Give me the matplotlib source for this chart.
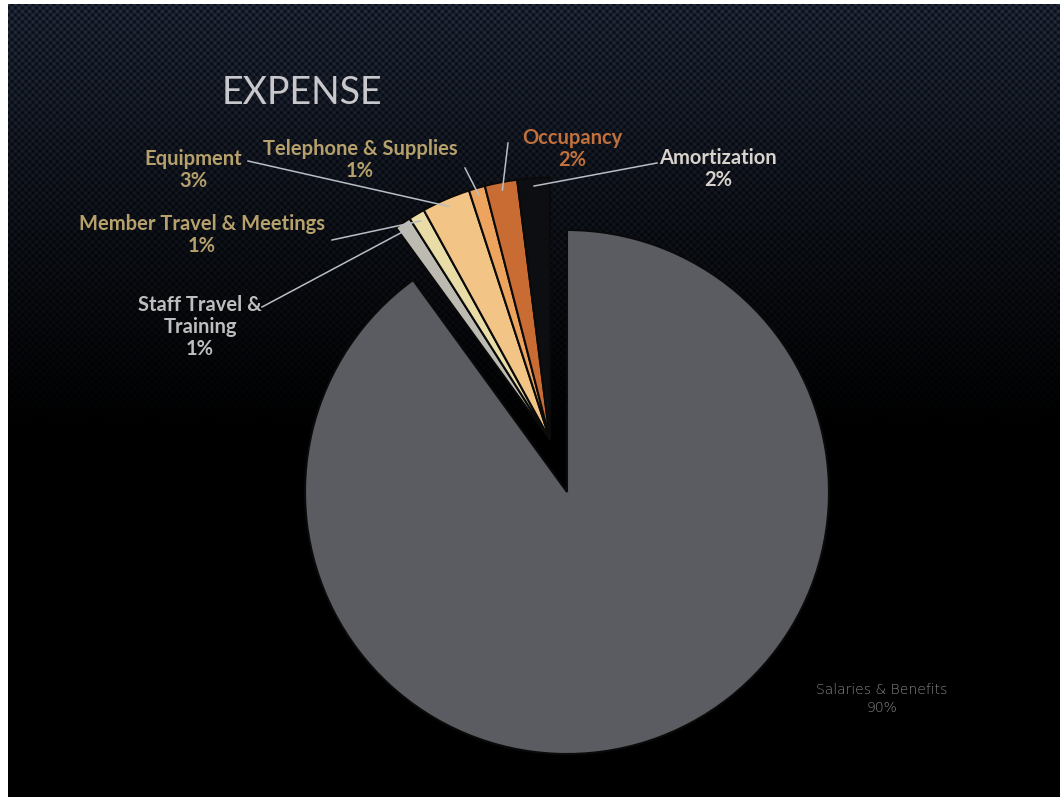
import numpy as np
import matplotlib.pyplot as plt

W, H = 1060, 799

categories = ["Salaries & Benefits", "Staff Travel &\nTraining", "Member Travel & Meetings",
              "Equipment", "Telephone & Supplies", "Occupancy", "Amortization"]
percent = [90, 1, 1, 3, 1, 2, 2]
colors = ["#5a5c62", "#bdbab1", "#e9dca6", "#f2c486", "#eca45e", "#c96c33", "#0c0e11"]
pulled = [False, True, True, True, True, True, True]

# label block centres and leader-line starts, in pixels from the top-left
label_pos = [(882, 699), (200, 327), (202, 235), (193, 170), (360, 160), (572, 149), (718, 169)]
line_start = [None, (262, 307), (332, 240), (248, 161), (465, 168), (508, 143), (657, 163)]
label_col = ["#8a8a8a", "#bebebe", "#b6a16c", "#b6a16c", "#b6a16c", "#c2703c", "#d8d2cc"]

fig = plt.figure(figsize=(W / 100, H / 100), dpi=100, facecolor="white")
ax = fig.add_axes([0, 0, 1, 1])

# dark textured backdrop fading to black
yy, xx = np.mgrid[0:795, 0:1052]
tex = 0.5 + 0.5 * np.cos(2 * np.pi * xx / 7.0) * np.cos(2 * np.pi * yy / 7.0)
fade = np.clip(1 - yy / 440.0, 0, 1) ** 1.1
top = np.array([40, 50, 70]) / 255.0
low = np.array([8, 11, 18]) / 255.0
img = (low[None, None, :] + (top - low)[None, None, :] * tex[..., None]) * fade[..., None]
ax.imshow(img, extent=(8, W, 2, H - 4), origin="upper", aspect="auto", zorder=0,
          interpolation="bilinear")

cx, cy, R = 567, H - 492, 262
wedges, _ = ax.pie(percent, colors=colors, startangle=90, counterclock=False,
                   center=(cx, cy), radius=R, frame=True,
                   wedgeprops=dict(edgecolor="#0a0a0a", linewidth=1.5))

# pull the small slices out together, along the bisector of the whole group
small = [w for w, p in zip(wedges, pulled) if p]
t_lo = min(w.theta1 for w in small)
t_hi = max(w.theta2 for w in small)
gmid = np.deg2rad((t_lo + t_hi) / 2)
off = 0.21 * R
for w in small:
    w.set_center((cx + off * np.cos(gmid), cy + off * np.sin(gmid)))

for i, w in enumerate(wedges):
    lx, ly = label_pos[i]
    pct = f"{percent[i]}%"
    if i == 0:
        ax.text(lx, H - ly, categories[i] + "\n" + pct, ha="center", va="center",
                color=label_col[i], fontsize=10, family="DejaVu Sans", fontweight="light",
                linespacing=1.3, zorder=5)
        continue
    ax.text(lx, H - ly, categories[i] + "\n" + pct, ha="center", va="center",
            color=label_col[i], fontsize=14.5, family="Lato", fontweight="bold",
            linespacing=1.12, zorder=5)
    mid = np.deg2rad((w.theta1 + w.theta2) / 2)
    px = w.center[0] + 0.97 * w.r * np.cos(mid)
    py = w.center[1] + 0.97 * w.r * np.sin(mid)
    sx, sy = line_start[i]
    ax.plot([sx, px], [H - sy, py], color="#b9bdc5", lw=1.1, zorder=4)

ax.text(222, H - 93, "EXPENSE", ha="left", va="center", color="#c8c8cc",
        fontsize=27, family="Lato", fontweight="normal", zorder=5)

ax.set_xlim(0, W)
ax.set_ylim(0, H)
ax.axis("off")
fig.savefig("out.png", dpi=100, facecolor="white")
